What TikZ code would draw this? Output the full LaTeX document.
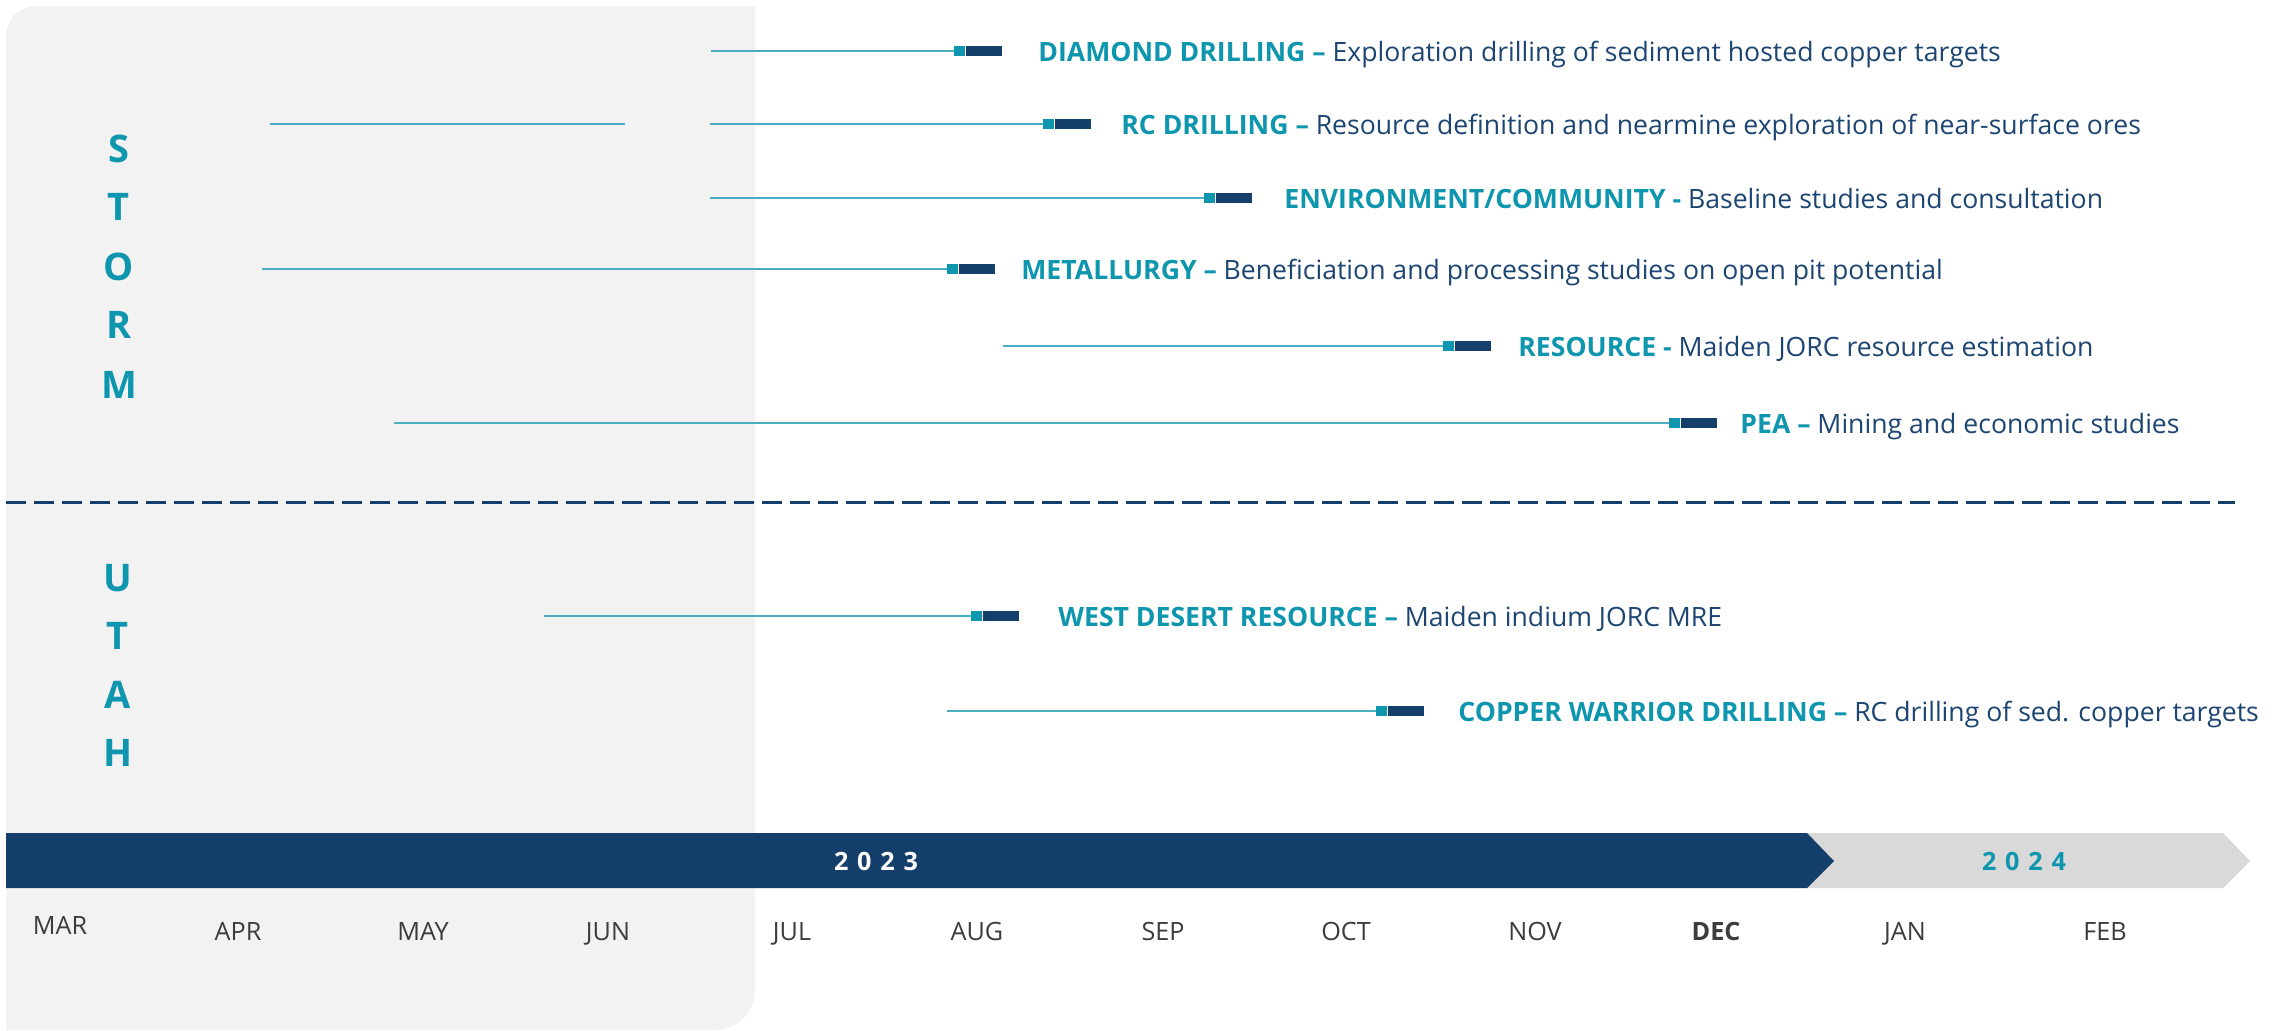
\documentclass[tikz,border=0pt]{standalone}
\usepackage{fontspec}
\setmainfont{Open Sans}
\newfontfamily\yearfont[LetterSpace=35]{Open Sans}
\definecolor{panelgray}{HTML}{F2F2F2}
\definecolor{lightbar}{HTML}{D9D9D9}
\definecolor{navy}{HTML}{143F6A}
\definecolor{teal}{HTML}{0E96AE}
\definecolor{linecol}{HTML}{4AADC0}
\definecolor{desc}{HTML}{1C4572}
\definecolor{monthcol}{HTML}{3C3C3C}
\tikzset{
  conn/.style={draw=linecol, line width=1.3pt},
  tealbox/.style={fill=teal, inner sep=0pt, minimum width=5.5pt, minimum height=5pt, anchor=west},
  navybox/.style={fill=navy, inner sep=0pt, minimum width=18pt, minimum height=5pt, anchor=west},
  lbl/.style={anchor=base west, inner sep=0pt, font=\fontsize{13.3pt}{16pt}\selectfont, text=desc},
  month/.style={anchor=base, inner sep=0pt, font=\fontsize{12.6pt}{15pt}\selectfont, text=monthcol},
  vlet/.style={anchor=base, inner sep=0pt, font=\fontsize{19pt}{22pt}\selectfont\bfseries, text=teal},
  year/.style={anchor=base, inner sep=0pt, font=\fontsize{12.6pt}{15pt}\selectfont\yearfont\bfseries}
}
\newcommand\tlrow[6]{%
  % #1 name, #2 start x, #3 teal x, #4 y, #5 text x, #6 text
  \coordinate (s#1) at (#2,#4);
  \node[tealbox] (t#1) at (#3,#4) {};
  \node[navybox] (d#1) at (t#1.east) {};
  \draw[conn] (s#1) -- (t#1.west);
  \node[lbl] (l#1) at (#5,#4+10) {#6};
}
\begin{document}
\begin{tikzpicture}[x=0.5pt,y=-0.5pt]
\useasboundingbox (0,0) rectangle (2280,1030);
\fill[white] (0,0) rectangle (2280,1030);
% panel
\fill[panelgray] (6,1030) {[rounded corners=15pt] -- (6,6) -- (380,6)} -- (755,6) {[rounded corners=20pt] -- (755,1030) -- (380,1030)} -- cycle;
% rows
\tlrow{1}{711}{954}{51}{1038}{\textcolor{teal}{\bfseries DIAMOND DRILLING –} Exploration drilling of sediment hosted copper targets}
\tlrow{2}{710}{1043}{124}{1121}{\textcolor{teal}{\bfseries RC DRILLING –} Resource definition and nearmine exploration of near-surface ores}
\coordinate (a2) at (270,124);
\coordinate (b2) at (625,124);
\draw[conn] (a2) -- (b2);
\tlrow{3}{710}{1204}{198}{1284}{\textcolor{teal}{\bfseries ENVIRONMENT/COMMUNITY -} Baseline studies and consultation}
\tlrow{4}{262}{947}{269}{1021}{\textcolor{teal}{\bfseries METALLURGY –} Beneficiation and processing studies on open pit potential}
\tlrow{5}{1003}{1443}{346}{1518}{\textcolor{teal}{\bfseries RESOURCE -} Maiden JORC resource estimation}
\tlrow{6}{394}{1669}{423}{1740}{\textcolor{teal}{\bfseries PEA –} Mining and economic studies}
\tlrow{7}{544}{971}{616}{1058}{\textcolor{teal}{\bfseries WEST DESERT RESOURCE –} Maiden indium JORC MRE}
\tlrow{8}{947}{1376}{711}{1458}{\textcolor{teal}{\bfseries COPPER WARRIOR DRILLING –} RC drilling of sed. copper targets}
% dashed separator
\coordinate (dl) at (6,502);
\coordinate (dr) at (2235,502);
\draw[navy, line width=1.5pt, dash pattern=on 10pt off 4pt] (dl) -- (dr);
% vertical labels
\foreach \c/\y [count=\i] in {S/148,T/206,O/266,R/324,M/384}
  \node[vlet] (st\i) at (119,\y+14) {\c};
\foreach \c/\y [count=\i] in {U/577,T/635,A/694,H/752}
  \node[vlet] (ut\i) at (118,\y+14) {\c};
% timeline bar
\fill[lightbar] (1790,833) -- (2223,833) -- (2250,861) -- (2223,888) -- (1790,888) -- cycle;
\fill[navy] (6,833) -- (1807,833) -- (1834,861) -- (1807,888) -- (6,888) -- cycle;
\node[year, text=white] (y23) at (876,870) {2023};
\node[year, text=teal] (y24) at (2024,870) {2024};
% months
\foreach \m/\x in {APR/238,MAY/423,JUN/608,JUL/792,AUG/977,SEP/1163,OCT/1346,NOV/1535,JAN/1905,FEB/2105}
  \node[month] (m\m) at (\x,940) {\m};
\node[month] (mMAR) at (60,934) {MAR};
\node[month, font=\fontsize{12.6pt}{15pt}\selectfont\bfseries] (mDEC) at (1716,940) {DEC};
\end{tikzpicture}
\end{document}
